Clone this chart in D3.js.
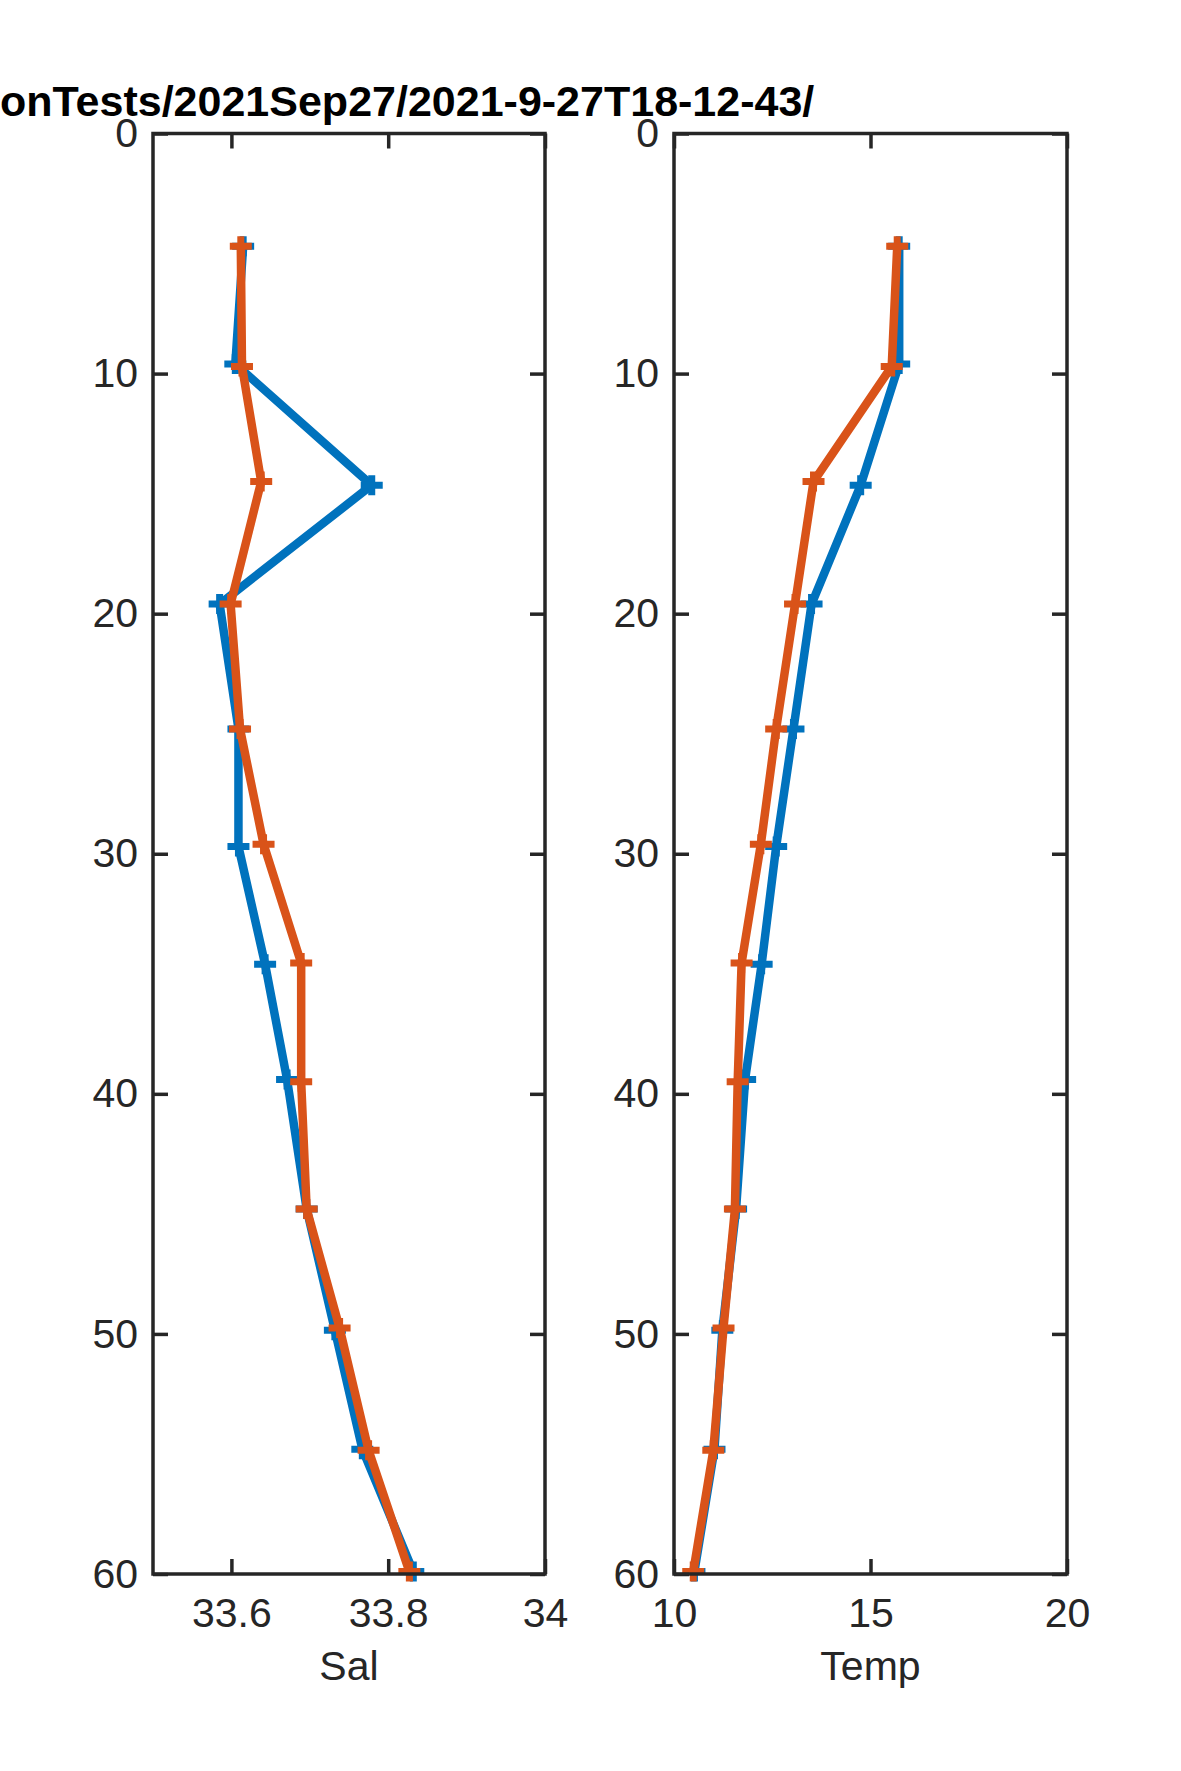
<!DOCTYPE html>
<html>
<head>
<meta charset="utf-8">
<script src="https://cdn.jsdelivr.net/npm/d3@7"></script>
<style>
  html, body { margin: 0; padding: 0; background: #ffffff; }
  svg { display: block; }
  text { font-family: "Liberation Sans", Arial, Helvetica, sans-serif; }
</style>
</head>
<body>
<script>
// ---------- data ----------
const titleText = "onTests/2021Sep27/2021-9-27T18-12-43/";
const depthBlue   = [4.7, 9.6, 14.65, 19.6, 24.8, 29.7, 34.6, 39.4, 44.8, 49.85, 54.8, 59.9];
const depthOrange = [4.7, 9.7, 14.5, 19.6, 24.8, 29.6, 34.55, 39.5, 44.8, 49.75, 54.85, 59.9];
const salBlue   = [33.615, 33.605, 33.779, 33.585, 33.609, 33.609, 33.643, 33.671, 33.696, 33.732, 33.767, 33.832];
const salOrange = [33.612, 33.6135, 33.638, 33.599, 33.611, 33.641, 33.689, 33.689, 33.696, 33.738, 33.775, 33.827];
const tempBlue   = [15.73, 15.73, 14.75, 13.50, 13.04, 12.60, 12.23, 11.81, 11.58, 11.23, 11.03, 10.52];
const tempOrange = [15.68, 15.54, 13.55, 13.08, 12.60, 12.21, 11.72, 11.62, 11.55, 11.26, 11.00, 10.49];
const depthTicks = [0, 10, 20, 30, 40, 50, 60];
const salTicks = [33.6, 33.8, 34];
const salTickLabels = ["33.6", "33.8", "34"];
const tempTicks = [10, 15, 20];
const tempTickLabels = ["10", "15", "20"];
const salLabel = "Sal";
const tempLabel = "Temp";

// ---------- layout ----------
const W = 1181, H = 1771;
const BLUE = "#0072BD", ORANGE = "#D95319", AX = "#262626";
const svg = d3.select("body").append("svg").attr("width", W).attr("height", H);

const yScale = d3.scaleLinear().domain([0, 60]).range([133.5, 1574]);
const panels = [
  { x: d3.scaleLinear().domain([33.5, 34]).range([153, 545]), ticks: salTicks, labels: salTickLabels,
    label: salLabel, blue: salBlue, orange: salOrange },
  { x: d3.scaleLinear().domain([10, 20]).range([674, 1067]), ticks: tempTicks, labels: tempTickLabels,
    label: tempLabel, blue: tempBlue, orange: tempOrange }
];

const FS = 41, TICK = 15;

panels.forEach(p => {
  const g = svg.append("g");
  const [x0, x1] = p.x.range();
  const [y0, y1] = yScale.range();

  // data lines
  const series = [
    { vals: p.blue, depth: depthBlue, color: BLUE },
    { vals: p.orange, depth: depthOrange, color: ORANGE }
  ];
  series.forEach(s => {
    const pts = s.vals.map((v, i) => [p.x(v), yScale(s.depth[i])]);
    g.append("path").attr("d", d3.line()(pts))
      .attr("fill", "none").attr("stroke", s.color).attr("stroke-width", 8.5)
      .attr("stroke-linejoin", "round").attr("stroke-linecap", "round");
    g.selectAll(null).data(pts).enter().append("path")
      .attr("d", d => `M${d[0]-11},${d[1]}H${d[0]+11}M${d[0]},${d[1]-10}V${d[1]+10}`)
      .attr("stroke", s.color).attr("stroke-width", 7).attr("fill", "none");
  });

  // axes (ticks inward)
  const styleAxis = (sel, showLabels) => {
    sel.select(".domain").remove();
    sel.selectAll(".tick line").attr("stroke", AX).attr("stroke-width", 3.5);
    sel.selectAll(".tick text").attr("fill", AX).style("font-size", FS + "px")
      .style("display", showLabels ? null : "none");
  };

  g.append("g").attr("transform", `translate(${x0},0)`)
    .call(d3.axisLeft(yScale).tickValues(depthTicks).tickFormat(d3.format("d")).tickSize(-TICK).tickPadding(15))
    .call(s => styleAxis(s, true));
  g.append("g").attr("transform", `translate(${x1},0)`)
    .call(d3.axisRight(yScale).tickValues(depthTicks).tickSize(-TICK))
    .call(s => styleAxis(s, false));
  g.append("g").attr("transform", `translate(0,${y1})`)
    .call(d3.axisBottom(p.x).tickValues(p.ticks).tickFormat((d, i) => p.labels[i]).tickSize(-TICK).tickPadding(24))
    .call(s => styleAxis(s, true));
  g.append("g").attr("transform", `translate(0,${y0})`)
    .call(d3.axisTop(p.x).tickValues(p.ticks).tickSize(-TICK))
    .call(s => styleAxis(s, false));

  // frame
  g.append("rect").attr("x", x0).attr("y", y0).attr("width", x1 - x0).attr("height", y1 - y0)
    .attr("fill", "none").attr("stroke", AX).attr("stroke-width", 3.5);

  // axis label
  g.append("text").attr("x", (x0 + x1) / 2).attr("y", 1680)
    .attr("text-anchor", "middle").attr("fill", AX).style("font-size", FS + "px").text(p.label);
});

// title
svg.append("text").attr("x", 0).attr("y", 116)
  .attr("fill", "#000").style("font-size", "43px").style("font-weight", "bold")
  .text(titleText);
</script>
</body>
</html>
